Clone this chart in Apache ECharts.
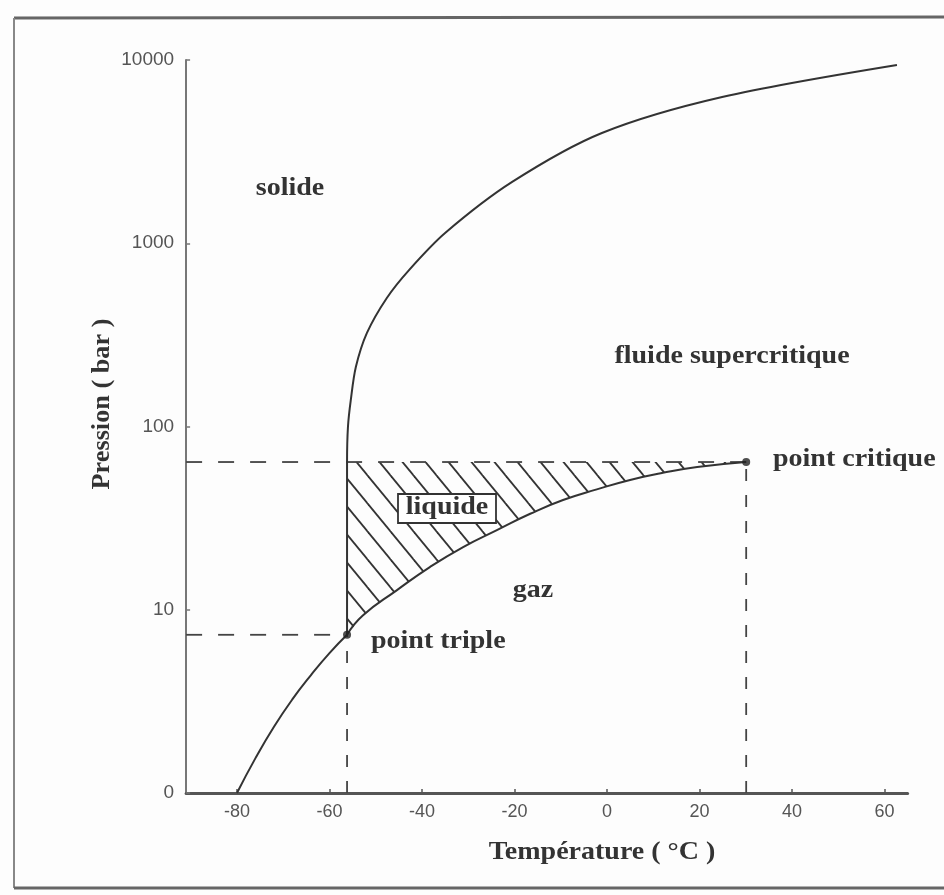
<!DOCTYPE html>
<html>
<head>
<meta charset="utf-8">
<script src="https://cdn.jsdelivr.net/npm/echarts@6/dist/echarts.min.js"></script>
<style>
  html, body { margin: 0; padding: 0; background: #fff; }
  #chart-phase { width: 944px; height: 895px; }
</style>
</head>
<body>
<div id="chart-phase"></div>
<script>
// CO2 phase diagram (T in °C, P in bar)
var xTicks = [-80, -60, -40, -20, 0, 20, 40, 60];
var yTicks = [1, 10, 100, 1000, 10000];

var sublimationT = [-80, -76, -72, -68, -64, -60, -56.2];
var sublimationP = [1, 1.55, 2.3, 3.25, 4.4, 5.8, 7.3];

var vaporT = [-56.2, -52.8, -45.4, -38.3, -31.1, -23.8, -16.6, -9.5, -2.2, 5.0, 12.1, 19.5, 30.1];
var vaporP = [7.3, 9.3, 12.8, 17.1, 22.0, 27.2, 33.4, 39.7, 45.4, 51.1, 55.9, 60.1, 64];

var fusionT = [-56.2, -56.2, -56.0, -55.4, -54.3, -51.9, -47.6, -42.8, -35.0, -20.5, -1.1, 24.9, 62.7];
var fusionP = [7.3, 64, 100, 139, 211, 324, 503, 714, 1137, 2160, 3995, 6280, 9390];

var triplePoint = [-56.2, 7.3];
var criticalPoint = [30.1, 64];

var xMin = -91, xMax = 65;

function pairs(xs, ys) {
  var out = [];
  for (let i = 0; i < xs.length; i++) {
    out.push([xs[i], ys[i]]);
  }
  return out;
}

function hatchPattern() {
  var c = document.createElement("canvas");
  var w = 23, h = 28;
  c.width = w;
  c.height = h;
  var ctx = c.getContext("2d");
  ctx.strokeStyle = "#333";
  ctx.lineWidth = 1.8;
  [-h, 0, h].forEach(function (dy) {
    ctx.beginPath();
    ctx.moveTo(-2, dy - (2 * h) / w);
    ctx.lineTo(w + 2, dy + h + (2 * h) / w);
    ctx.stroke();
  });
  return c;
}

function label(text, x, y, opts) {
  opts = opts || {};
  return {
    type: "text",
    x: x,
    y: y,
    rotation: opts.rotation || 0,
    scaleX: opts.scaleX || 1.12,
    z: 100,
    style: {
      text: text,
      x: 0,
      y: 0,
      font: "bold " + (opts.size || 25) + "px 'Liberation Serif', serif",
      fill: "#333",
      align: opts.align || "center",
      verticalAlign: "middle",
    },
  };
}

var myChart = echarts.init(document.getElementById("chart-phase"));
var hatch = { image: hatchPattern(), repeat: "repeat" };

// liquid region: vaporization curve then back along the critical pressure line
var liquidPts = pairs(vaporT, vaporP).concat([[triplePoint[0], criticalPoint[1]]]);

var curveStyle = { color: "#333", width: 2 };
var dashStyle = { color: "#444", width: 1.8, type: [16, 16] };

var option = {
  backgroundColor: "#fdfdfd",
  animation: false,
  grid: {
    left: 186.1,
    right: 36.4,
    top: 60,
    bottom: 102,
    outerBoundsMode: "none",
  },
  xAxis: {
    type: "value",
    min: xMin,
    max: xMax,
    axisLine: { onZero: false, lineStyle: { color: "#555", width: 3 } },
    axisTick: {
      customValues: xTicks,
      inside: true,
      length: 4,
      lineStyle: { color: "#555", width: 1.5 },
    },
    axisLabel: {
      customValues: xTicks,
      color: "#555",
      fontSize: 18,
      margin: 10,
      fontFamily: "'Liberation Sans', sans-serif",
    },
    splitLine: { show: false },
  },
  yAxis: {
    type: "log",
    logBase: 10,
    min: 1,
    max: 10000,
    axisLine: { show: true, onZero: false, lineStyle: { color: "#777", width: 2 } },
    axisTick: {
      show: true,
      customValues: yTicks,
      inside: true,
      length: 4,
      lineStyle: { color: "#777", width: 1.5 },
    },
    axisLabel: {
      customValues: yTicks,
      color: "#555",
      fontSize: 19,
      margin: 12,
      fontFamily: "'Liberation Sans', sans-serif",
      formatter: function (v) {
        return v === 1 ? "0" : String(v);
      },
    },
    splitLine: { show: false },
  },
  series: [
    {
      type: "custom",
      z: 1,
      silent: true,
      data: [[0, 10]],
      renderItem: function (params, api) {
        var pts = liquidPts.map(function (p) {
          return api.coord(p);
        });
        return {
          type: "polygon",
          shape: { points: pts },
          style: { fill: hatch, stroke: null },
        };
      },
    },
    {
      name: "sublimation",
      type: "line",
      data: pairs(sublimationT, sublimationP),
      smooth: 0.5,
      symbol: "none",
      lineStyle: curveStyle,
      z: 3,
    },
    {
      name: "vaporisation",
      type: "line",
      data: pairs(vaporT, vaporP),
      smooth: 0.5,
      symbol: "none",
      lineStyle: curveStyle,
      z: 3,
    },
    {
      name: "fusion",
      type: "line",
      data: pairs(fusionT, fusionP),
      smooth: 0.3,
      symbol: "none",
      lineStyle: curveStyle,
      z: 3,
    },
    {
      type: "line",
      data: [[xMin, criticalPoint[1]], criticalPoint],
      symbol: "none",
      lineStyle: dashStyle,
      z: 2,
    },
    {
      type: "line",
      data: [[xMin, triplePoint[1]], triplePoint],
      symbol: "none",
      lineStyle: dashStyle,
      z: 2,
    },
    {
      type: "line",
      data: [[triplePoint[0], 1], triplePoint],
      symbol: "none",
      lineStyle: { color: "#444", width: 1.8, type: [12, 14] },
      z: 2,
    },
    {
      type: "line",
      data: [[criticalPoint[0], 1], criticalPoint],
      symbol: "none",
      lineStyle: { color: "#444", width: 1.8, type: [12, 14] },
      z: 2,
    },
    {
      type: "scatter",
      data: [triplePoint, criticalPoint],
      symbolSize: 8,
      itemStyle: { color: "#222" },
      z: 5,
    },
  ],
  graphic: [
    // scan border
    { type: "line", shape: { x1: 14, y1: 18, x2: 944, y2: 17 }, style: { stroke: "#666", lineWidth: 3 } },
    { type: "line", shape: { x1: 14, y1: 18, x2: 14, y2: 888 }, style: { stroke: "#888", lineWidth: 2 } },
    { type: "line", shape: { x1: 14, y1: 888, x2: 944, y2: 888 }, style: { stroke: "#666", lineWidth: 3 } },
    {
      type: "rect",
      shape: { x: 398, y: 494, width: 98, height: 29 },
      style: { fill: "#fff", stroke: "#333", lineWidth: 1.8 },
      z: 90,
    },
    label("liquide", 447, 508),
    label("solide", 290, 189),
    label("fluide supercritique", 732, 357),
    label("point critique", 773, 460, { align: "left" }),
    label("gaz", 533, 591),
    label("point triple", 371, 642, { align: "left" }),
    label("Température ( °C )", 602, 853),
    label("Pression ( bar )", 103, 404, { rotation: Math.PI / 2, scaleX: 1.05 }),
  ],
};

myChart.setOption(option);
</script>
</body>
</html>
